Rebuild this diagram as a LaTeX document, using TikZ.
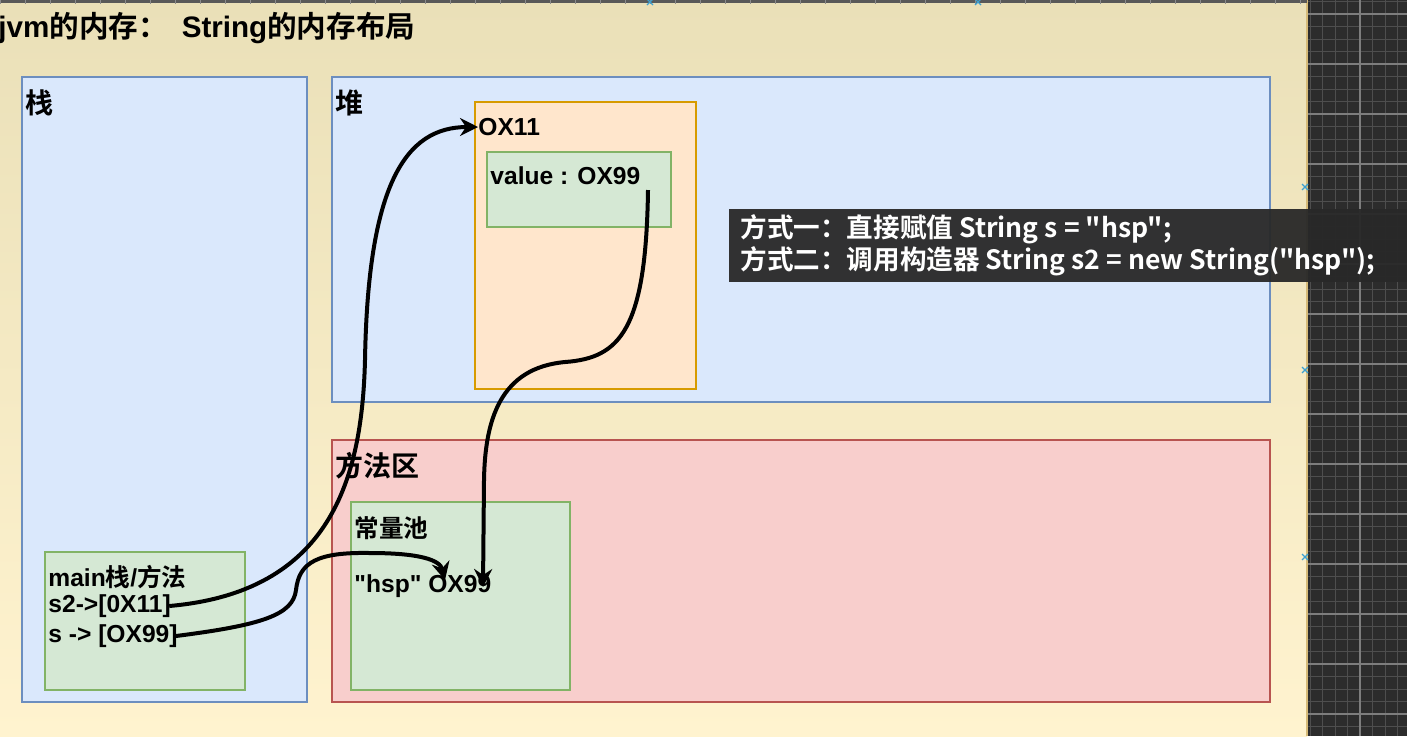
\documentclass[tikz,border=0pt]{standalone}
\usepackage{fontspec}
\setmainfont{Liberation Sans}
\newfontfamily\cjk{Noto Sans CJK SC}[BoldFont={Noto Sans CJK SC Bold}]
\usetikzlibrary{arrows.meta, positioning}
\usepackage{xcolor}
\definecolor{pagetop}{RGB}{234, 224, 184}
\definecolor{pagebot}{RGB}{255, 243, 207}
\definecolor{pageedge}{RGB}{214, 186, 120}
\definecolor{gridbg}{RGB}{44, 44, 44}
\definecolor{gridminor}{RGB}{78, 78, 78}
\definecolor{gridmajor}{RGB}{125, 125, 125}
\definecolor{selmark}{RGB}{60, 160, 210}
\definecolor{bluefill}{HTML}{DAE8FC}
\definecolor{blueline}{HTML}{6C8EBF}
\definecolor{orangefill}{HTML}{FFE6CC}
\definecolor{orangeline}{HTML}{D79B00}
\definecolor{greenfill}{HTML}{D5E8D4}
\definecolor{greenline}{HTML}{82B366}
\definecolor{redfill}{HTML}{F8CECC}
\definecolor{redline}{HTML}{B85450}
\definecolor{notebg}{RGB}{40, 40, 40}

\tikzset{
    bluearea/.style={fill=bluefill, draw=blueline, line width=0.6pt},
    redarea/.style={fill=redfill, draw=redline, line width=0.6pt},
    objbox/.style={fill=orangefill, draw=orangeline, line width=0.6pt},
    greenbox/.style={fill=greenfill, draw=greenline, line width=0.6pt},
    arealabel/.style={anchor=west, inner sep=0pt, font=\fontsize{14}{16}\selectfont\bfseries},
    boxtext/.style={anchor=west, inner sep=0pt, font=\fontsize{12.3}{14}\selectfont\bfseries},
    refarrow/.style={line width=2pt, -{Stealth[length=9pt, width=9pt, inset=3pt]}},
}

\begin{document}
\begin{tikzpicture}[x=0.5pt, y=-0.5pt]
    \useasboundingbox (0,0) rectangle (1407,736);

    % Page background
    \shade[top color=pagetop, bottom color=pagebot] (0,0) rectangle (1307,736);
    \draw[pageedge, line width=0.8pt] (1307,0) -- (1307,736);

    % Ruler along the top edge
    \fill[black!65] (0,0) rectangle (1307,2.5);
    \foreach \tx in {0,25,...,1300} {
        \draw[black!45, line width=0.3pt] (\tx,0) -- (\tx,4);
    }

    % Dark editor grid on the right
    \fill[gridbg] (1308,0) rectangle (1407,736);
    \foreach \k in {0,...,8} {
        \draw[gridminor, line width=0.5pt] ({1310+12.5*\k},0) -- ({1310+12.5*\k},736);
    }
    \foreach \k in {0,...,59} {
        \draw[gridminor, line width=0.5pt] (1308,{1.5+12.5*\k}) -- (1407,{1.5+12.5*\k});
    }
    \foreach \gy in {14,64,...,714} {
        \draw[gridmajor, line width=0.6pt] (1308,\gy) -- (1407,\gy);
    }
    \draw[gridmajor, line width=0.6pt] (1360,0) -- (1360,736);

    % Title
    \node[anchor=west, inner sep=0pt, font=\fontsize{14.8}{17}\selectfont\bfseries]
        (title) at (-2,28) {jvm{\cjk 的内存：}\hspace{7pt}String{\cjk 的内存布局}};

    % Stack area
    \draw[bluearea] (22,77) rectangle (307,702);
    \node[arealabel] (stacklbl) at (25,103) {\cjk 栈};

    % Heap area
    \draw[bluearea] (332,77) rectangle (1270,402);
    \node[arealabel] (heaplbl) at (335,103) {\cjk 堆};

    % Method area
    \draw[redarea] (332,440) rectangle (1270,702);
    \node[arealabel] (methodlbl) at (335,466) {\cjk 方法区};

    % String object in the heap
    \draw[objbox] (475,102) rectangle (696,389);
    \node[boxtext] (objaddr) at (478,127) {OX11};
    \draw[greenbox] (487,152) rectangle (671,227);
    \node[boxtext] (valtxt) at (490,176) {value : OX99};
    \coordinate (valend) at (648,190);

    % Constant pool
    \draw[greenbox] (351,502) rectangle (570,690);
    \node[boxtext] (poollbl) at (354,528) {\cjk 常量池};
    \node[boxtext] (hsptxt) at (354,586) {\textquotedbl hsp\textquotedbl{} OX99};
    \coordinate (hsptip) at (445,580);
    \coordinate (valtip) at (483,587);

    % main frame
    \draw[greenbox] (45,552) rectangle (245,690);
    \node[boxtext] (mainlbl) at (48,577) {main{\cjk 栈}/{\cjk 方法}};
    \node[boxtext] (s2ref) at (48,606) {s2->[0X11]};
    \node[boxtext] (sref) at (48,636) {s -> [OX99]};

    % References
    \draw[refarrow] ([xshift=-1pt]s2ref.east) .. controls (330,592) and (362,480) .. (365,360)
        .. controls (368,185) and (405,127) .. (objaddr.west);
    \draw[refarrow] ([xshift=-1pt]sref.east) .. controls (262,625) and (293,615) .. (296,590)
        .. controls (299,562) and (318,552) .. (370,553)
        .. controls (420,553) and (440,560) .. (hsptip);
    \draw[refarrow] (valend) .. controls (646,330) and (620,358) .. (565,362)
        .. controls (500,368) and (485,420) .. (484,480) -- (valtip);

    % Selection markers
    \foreach \mx/\my in {650/2, 978/2, 1305/187, 1305/370, 1305/557} {
        \draw[selmark, line width=0.6pt] (\mx-3,\my-3) -- (\mx+3,\my+3)
            (\mx-3,\my+3) -- (\mx+3,\my-3);
    }

    % Caption overlay
    \fill[notebg, opacity=0.95] (729,209) rectangle (1407,282);
    \node[anchor=west, inner sep=0pt, text=white, align=left,
        font=\cjk\fontsize{13.3}{16}\selectfont\bfseries] (note) at (740,245)
        {方式一：直接赋值 String s = "hsp";\\方式二：调用构造器 String s2 = new String("hsp");};

\end{tikzpicture}
\end{document}
